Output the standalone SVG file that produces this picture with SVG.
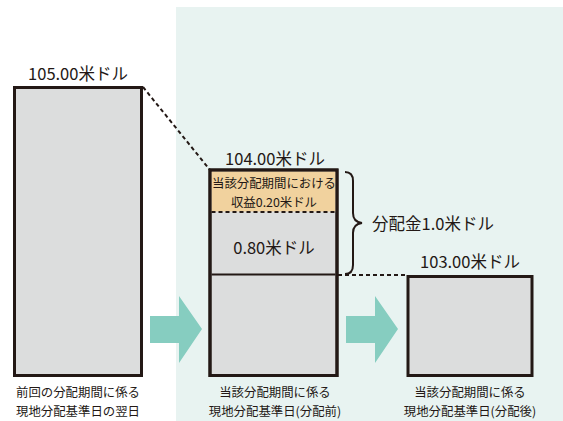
<svg xmlns="http://www.w3.org/2000/svg" width="563" height="421" viewBox="0 0 563 421">
<style>
.t{font-family:"Noto Sans CJK JP","Noto Sans",sans-serif;fill:#231815;text-anchor:middle}
.v{font-size:16.5px}
.s{font-size:12.4px}
.o{font-size:12.4px}
.box{fill:#dcdddd;stroke:#231815;stroke-width:3}
.arr{fill:#86cdc0}
.dash{fill:none;stroke:#231815;stroke-width:2;stroke-dasharray:4 3}
</style>
<rect x="176" y="7" width="387" height="414" fill="#e8f3f1"/>
<g id="connectors">
<path class="dash" d="M143,87 L210,170"/>
<path class="dash" d="M338,275 L407,275"/>
<path class="arr" d="M150,316 H179 V296 L202,329 L179,363 V343 H150 Z"/>
<path class="arr" d="M346,316 H375 V296 L398,329 L375,363 V343 H346 Z"/>
<path d="M345,172 Q353,172 353,181 V213 Q353,222 362,223 Q353,224 353,233 V265 Q353,274 345,274" fill="none" stroke="#231815" stroke-width="2"/>
</g>
<g id="box-prev">
<rect class="box" x="14.5" y="87.5" width="127" height="288"/>
<text class="t v" x="78" y="80">105.00米ドル</text>
<text class="t s" x="78" y="397">前回の分配期間に係る</text>
<text class="t s" x="78" y="415.5">現地分配基準日の翌日</text>
</g>
<g id="box-before">
<rect class="box" x="210" y="170" width="127" height="205.5"/>
<rect x="211.5" y="171.5" width="124" height="40" fill="#f1d29e"/>
<path class="dash" d="M211.5,212 H335.5"/>
<line x1="211.5" y1="274.5" x2="335.5" y2="274.5" stroke="#231815" stroke-width="2"/>
<rect x="210" y="170" width="127" height="205.5" fill="none" stroke="#231815" stroke-width="3"/>
<text class="t v" x="275" y="165">104.00米ドル</text>
<text class="t o" x="274" y="188">当該分配期間における</text>
<text class="t o" x="274" y="206.5">収益0.20米ドル</text>
<text class="t v" x="274" y="254">0.80米ドル</text>
<text class="t s" x="275" y="397">当該分配期間に係る</text>
<text class="t s" x="275" y="415.5">現地分配基準日(分配前)</text>
</g>
<g id="box-after">
<rect class="box" x="408" y="276.5" width="124" height="99"/>
<text class="t v" x="470" y="268">103.00米ドル</text>
<text class="t s" x="470" y="397">当該分配期間に係る</text>
<text class="t s" x="470" y="415.5">現地分配基準日(分配後)</text>
</g>
<g id="brace-label">
<text class="t v" x="372" y="230" style="text-anchor:start">分配金1.0米ドル</text>
</g>
</svg>
